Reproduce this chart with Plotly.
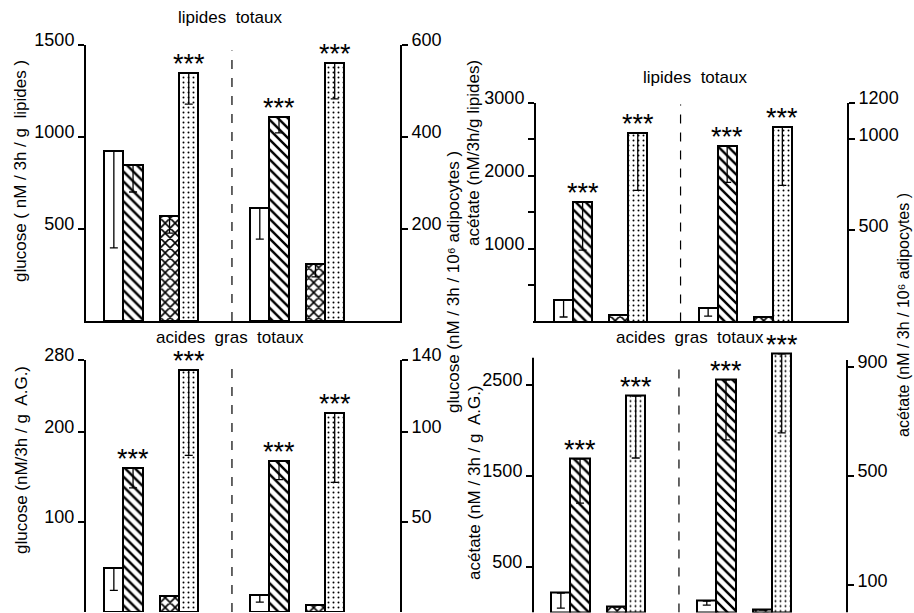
import plotly.graph_objects as go

W, H = 914, 613
FONT = "Liberation Sans"

# ---------------- data ----------------
SERIES = ["blanc", "hachuré", "quadrillé", "pointillé"]

# top-left : glucose, lipides totaux  (left half: nM/3h/g lipides, right half: nM/3h/10^6 adipocytes)
tl_g_vals = [924, 848, 571, 1348]
tl_g_err = [527, 147, 93, 169]
tl_a_vals = [246, 444, 124, 561]
tl_a_err = [68, 35, 28, 78]
tl_g_stars = [0, 0, 0, 1]
tl_a_stars = [0, 1, 0, 1]

# top-right : acétate, lipides totaux
tr_g_vals = [295, 1637, 89, 2582]
tr_g_err = [233, 658, 0, 781]
tr_a_vals = [74, 962, 25, 1068]
tr_a_err = [45, 198, 0, 320]
tr_g_stars = [0, 1, 0, 1]
tr_a_stars = [0, 1, 0, 1]

# bottom-left : glucose, acides gras totaux
bl_g_vals = [49, 160, 18, 269]
bl_g_err = [25, 22, 0, 95]
bl_a_vals = [9.5, 84, 4, 110.5]
bl_a_err = [4, 10.5, 0, 38.5]
bl_g_stars = [0, 1, 0, 1]
bl_a_stars = [0, 1, 0, 1]

# bottom-right : acétate, acides gras totaux
br_g_vals = [214, 1687, 60, 2379]
br_g_err = [165, 484, 0, 681]
br_a_vals = [42, 852, 9, 947]
br_a_err = [15, 220, 0, 289]
br_g_stars = [0, 1, 0, 1]
br_a_stars = [0, 1, 0, 1]

# tick values / labels
tl_left_ticks = [500, 1000, 1500]
tl_right_ticks = [200, 400, 600]
tr_left_ticks = [500, 1000, 1500, 2000, 2500, 3000]
tr_left_text = ["", "1000", "", "2000", "", "3000"]
tr_right_ticks = [500, 1000, 1200]
bl_left_ticks = [100, 200, 280]
bl_right_ticks = [50, 100, 140]
br_left_ticks = [500, 1500, 2500]
br_right_ticks = [100, 500, 900]

# ---------------- layout helpers ----------------
def px_x(p):
    return p / W

def px_y(p):
    return 1 - p / H

POS_G = [1.45, 2.45, 4.35, 5.35]
POS_A = [9.05, 10.05, 11.95, 12.95]
XR = [0, 16.35]
DASH_X = 7.6

SHAPES = ["", "\\", "x", "."]
PSIZE = [8, 7, 7, 5]
PSOL = [0.1, 0.35, 0.4, 0.12]

fig = go.Figure()


def add_bars(vals, errs, pos, xa, ya):
    fig.add_trace(go.Bar(
        x=pos, y=vals, width=[1] * 4, xaxis=xa, yaxis=ya,
        marker=dict(color="white", line=dict(color="black", width=2),
                    pattern=dict(shape=SHAPES, fgcolor="black", bgcolor="white",
                                 size=PSIZE, solidity=PSOL, fillmode="replace")),
        error_y=dict(type="data", symmetric=False, array=[0] * 4, arrayminus=errs,
                     color="black", thickness=1.3, width=4),
        showlegend=False, hoverinfo="skip",
        customdata=SERIES,
    ))


annotations = []


def add_stars(vals, stars, pos, xa, ya):
    for v, s, p in zip(vals, stars, pos):
        if s:
            annotations.append(dict(x=p, y=v, xref=xa, yref=ya, text="***",
                                    showarrow=False, yanchor="middle", yshift=9,
                                    font=dict(family=FONT, size=27, color="black")))


panels = [
    dict(xa="x", yl="y", yr="y2", g=(tl_g_vals, tl_g_err, tl_g_stars), a=(tl_a_vals, tl_a_err, tl_a_stars),
         dash_top=1470),
    dict(xa="x2", yl="y3", yr="y4", g=(tr_g_vals, tr_g_err, tr_g_stars), a=(tr_a_vals, tr_a_err, tr_a_stars),
         dash_top=2980),
    dict(xa="x3", yl="y5", yr="y6", g=(bl_g_vals, bl_g_err, bl_g_stars), a=(bl_a_vals, bl_a_err, bl_a_stars),
         dash_top=277),
    dict(xa="x4", yl="y7", yr="y8", g=(br_g_vals, br_g_err, br_g_stars), a=(br_a_vals, br_a_err, br_a_stars),
         dash_top=2750),
]

shapes = []
for p in panels:
    add_bars(p["g"][0], p["g"][1], POS_G, p["xa"], p["yl"])
    add_bars(p["a"][0], p["a"][1], POS_A, p["xa"], p["yr"])
    add_stars(p["g"][0], p["g"][2], POS_G, p["xa"], p["yl"])
    add_stars(p["a"][0], p["a"][2], POS_A, p["xa"], p["yr"])
    shapes.append(dict(type="line", xref=p["xa"], yref=p["yl"], x0=DASH_X, x1=DASH_X,
                       y0=0, y1=p["dash_top"], line=dict(color="black", width=1.2, dash="dash")))

# bottom-right axis lines (one bar exceeds the drawn axis)
shapes.append(dict(type="line", xref="x4 domain", yref="y7", x0=0, x1=0, y0=0, y1=2800,
                   line=dict(color="black", width=2)))
shapes.append(dict(type="line", xref="x4 domain", yref="y8", x0=1, x1=1, y0=0, y1=925,
                   line=dict(color="black", width=2)))

tickfont = dict(family=FONT, size=18, color="black")


def xax(l, r):
    return dict(domain=[px_x(l), px_x(r)], range=XR, showline=True, linecolor="black", linewidth=2,
                showticklabels=False, ticks="", showgrid=False, zeroline=False, fixedrange=True,
                automargin=False)


def yax(bottom, top, rng, tv, tt, xa, side, overlay=None, line=True):
    d = dict(domain=[px_y(bottom), px_y(top)], range=rng, tickvals=tv, ticktext=tt,
             anchor=xa, side=side, showline=line, linecolor="black", linewidth=2,
             ticks="outside", ticklen=6, tickwidth=1.5, tickcolor="black",
             tickfont=tickfont, showgrid=False, zeroline=False, ticklabelshift=-5,
             ticklabelstandoff=0, automargin=False)
    if overlay:
        d["overlaying"] = overlay
    return d


fig.update_layout(
    width=W, height=H, margin=dict(l=0, r=0, t=0, b=0, pad=0), autosize=False,
    paper_bgcolor="white", plot_bgcolor="rgba(0,0,0,0)",
    barmode="overlay", bargap=0,
    xaxis=xax(86, 400),
    yaxis=yax(321, 45, [0, 1500], tl_left_ticks, [str(v) for v in tl_left_ticks], "x", "left"),
    yaxis2=yax(321, 45, [0, 600], tl_right_ticks, [str(v) for v in tl_right_ticks], "x", "right", "y"),
    xaxis2=xax(536, 847),
    yaxis3=yax(321.5, 103, [0, 3000], tr_left_ticks, tr_left_text, "x2", "left"),
    yaxis4=yax(321.5, 103, [0, 1200], tr_right_ticks, [str(v) for v in tr_right_ticks], "x2", "right", "y3"),
    xaxis3=xax(86, 400),
    yaxis5=yax(612, 360, [0, 280], bl_left_ticks, [str(v) for v in bl_left_ticks], "x3", "left"),
    yaxis6=yax(612, 360, [0, 140], bl_right_ticks, [str(v) for v in bl_right_ticks], "x3", "right", "y5"),
    xaxis4=xax(533, 847),
    yaxis7=yax(612.5, 348.6, [0, 2900], br_left_ticks, [str(v) for v in br_left_ticks], "x4", "left", line=False),
    yaxis8=yax(612.5, 348.6, [0, 2900 / 3], br_right_ticks, [str(v) for v in br_right_ticks], "x4", "right", "y7",
               line=False),
    shapes=shapes,
)


def text(x, y, s, angle=0, size=17):
    annotations.append(dict(x=px_x(x), y=px_y(y), xref="paper", yref="paper", text=s,
                            showarrow=False, textangle=angle, xanchor="center", yanchor="middle",
                            font=dict(family=FONT, size=size, color="black")))


text(230, 18, "lipides  totaux", size=17)
text(695, 77, "lipides  totaux", size=17)
text(230, 337, "acides  gras  totaux", size=17)
text(690, 337, "acides  gras  totaux", size=17)
text(21, 171, "glucose ( nM / 3h / g  lipides )", -90)
text(21, 460, "glucose (nM/3h / g  A.G.)", -90)
text(453, 282, "glucose (nM / 3h / 10⁶ adipocytes )", -90)
text(474, 153, "acétate (nM/3h/g lipides)", -90)
text(474, 483, "acétate (nM / 3h / g  A.G.)", -90)
text(903, 315, "acétate (nM / 3h / 10⁶ adipocytes )", -90, size=16)

fig.update_layout(annotations=annotations)
fig.write_html("out.html", config={"displayModeBar": False},
               post_script="document.body.style.margin='0px';document.body.style.overflow='hidden';")
